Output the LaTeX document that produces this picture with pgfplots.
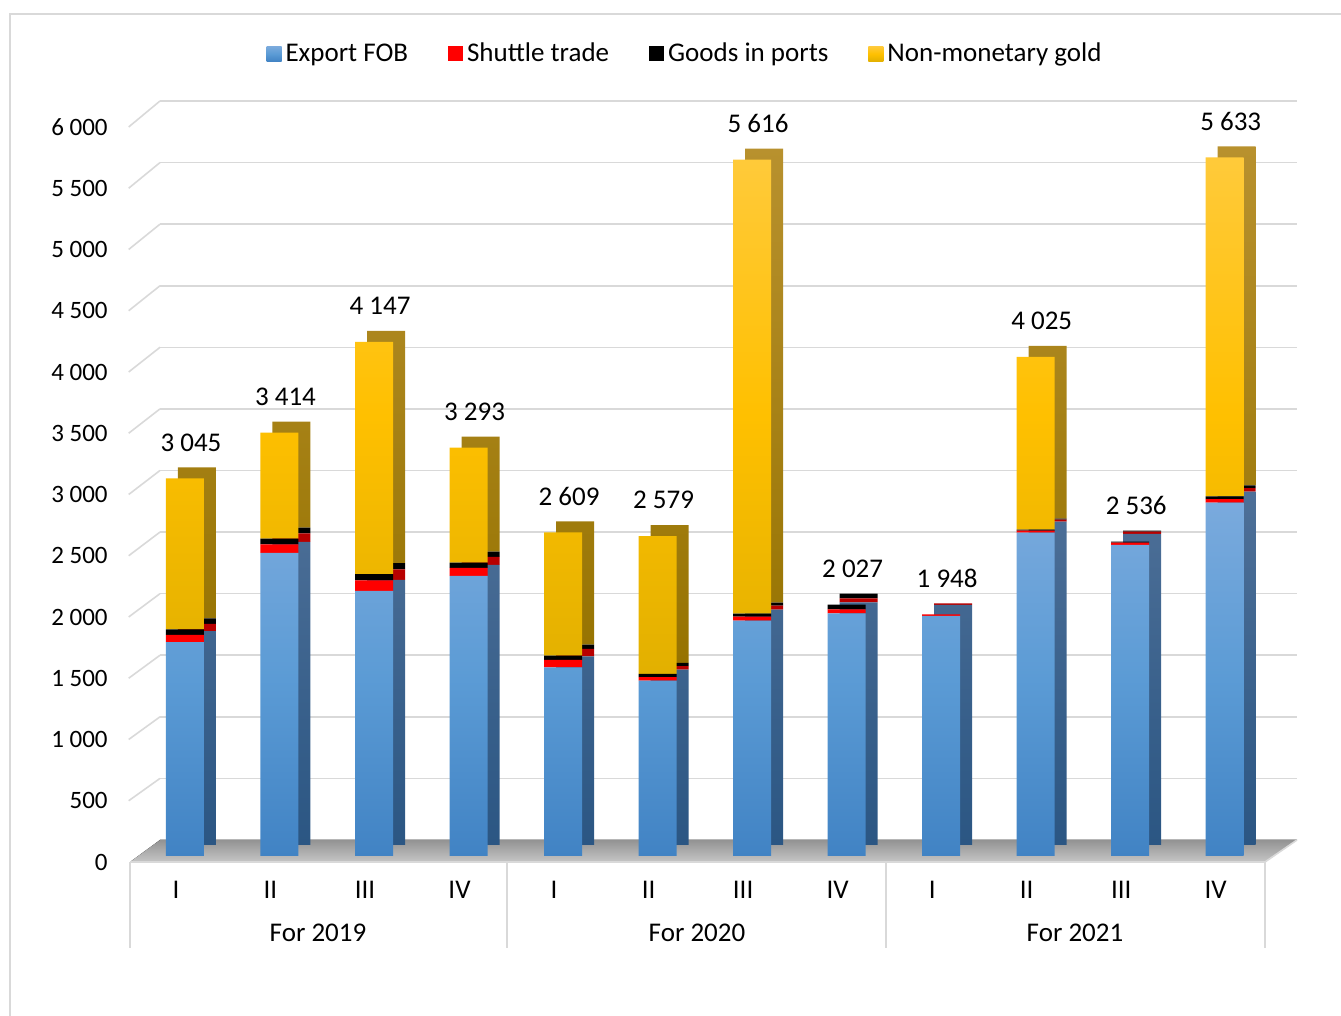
\documentclass[border=0pt]{standalone}
\usepackage{pgfplots}
\pgfplotsset{compat=1.18}
\usepackage{pgfplotstable}
\usepackage{fontspec}
\setmainfont{Carlito}
\definecolor{gridc}{HTML}{D9D9D9}
\definecolor{bluetop}{HTML}{7AAADD}
\definecolor{bluemid}{HTML}{5B9BD5}
\definecolor{bluebot}{HTML}{4183C4}
\definecolor{goldtop}{HTML}{FFCA3A}
\definecolor{goldmid}{HTML}{FFC000}
\definecolor{goldbot}{HTML}{E2B000}
\definecolor{bluesidetop}{HTML}{4E7098}
\definecolor{bluesidebot}{HTML}{2B5683}
\definecolor{goldside}{HTML}{B8912E}
\definecolor{goldsidebot}{HTML}{967300}
\definecolor{redside}{HTML}{B80000}

\pgfplotstableread{
x blue red black gold total
0 1725 59 43 1218 3045
1 2444 70 45 855 3414
2 2139 83 51 1874 4147
3 2259 64 43 927 3293
4 1522 59 35 993 2609
5 1415 27 27 1110 2579
6 1899 32 24 3661 5616
7 1957 31 39 0 2027
8 1936 12 0 0 1948
9 2607 16 8 1394 4025
10 2508 20 8 0 2536
11 2849 28 24 2732 5633
}\datatable

\newcommand{\lblfont}{\fontsize{12.5}{15}\selectfont}
\newcommand{\bigfont}{\fontsize{13.5}{16}\selectfont}

\begin{document}
\begin{tikzpicture}
\path[use as bounding box] (0pt,0pt) rectangle (670.5pt,508pt);
% outer frame
\draw[gridc, line width=0.8pt] (5pt,0pt) -- (5pt,501pt) -- (672pt,501pt);

% back wall grid
\begin{axis}[
  at={(80pt,88pt)}, anchor=south west,
  scale only axis, width=568.5pt, height=369.5pt,
  xmin=-0.5, xmax=11.5, ymin=0, ymax=6000,
  axis line style={draw=none}, tick style={draw=none},
  xtick=\empty, ytick={0,500,...,6000}, yticklabels={},
  ymajorgrids, grid style={gridc, line width=0.8pt},
]
\addplot[draw=none] coordinates {(0,0)};
\end{axis}

% left diagonals
\foreach \v in {1,2,...,12}{
  \draw[gridc, line width=0.8pt] (64.35pt,{(77+\v*30.625)*1pt}) -- (80pt,{(88+\v*30.7917)*1pt});
}
% floor
\fill[top color=gray!85, bottom color=gray!45] (65pt,77pt) -- (632.5pt,77pt) -- (648.5pt,88pt) -- (80pt,88pt) -- cycle;
\draw[gridc, line width=0.8pt] (65pt,77pt) -- (632.5pt,77pt) -- (648.5pt,88pt);
% category separators
\foreach \xx in {65,253.5,443,632.5}{
  \draw[gridc, line width=0.8pt] (\xx pt,77pt) -- (\xx pt,34pt);
}
\node[font=\bigfont] at (159pt,41.5pt) {For 2019};
\node[font=\bigfont] at (348.5pt,41.5pt) {For 2020};
\node[font=\bigfont] at (537.5pt,41.5pt) {For 2021};

% bar side/top faces (shifted copy)
\begin{axis}[
  at={(74.85pt,85.5pt)}, anchor=south west,
  scale only axis, width=567.15pt, height=372pt,
  xmin=-0.5, xmax=11.5, ymin=0, ymax=6000,
  hide axis, ybar stacked, bar width=19pt,
]
\addplot[draw=none, top color=bluesidetop, bottom color=bluesidebot] table[x=x,y=blue]{\datatable};
\addplot[draw=none, fill=redside] table[x=x,y=red]{\datatable};
\addplot[draw=none, fill=black] table[x=x,y=black]{\datatable};
\addplot[draw=none, top color=goldside, bottom color=goldsidebot] table[x=x,y=gold]{\datatable};
\end{axis}

% bar front faces
\begin{axis}[
  at={(68.85pt,80pt)}, anchor=south west,
  scale only axis, width=567.15pt, height=372pt,
  xmin=-0.5, xmax=11.5, ymin=0, ymax=6000,
  hide axis, ybar stacked, bar width=19pt,
  legend columns=4,
  legend style={draw=none, fill=none, at={(axis description cs:0.4834,1.078)}, anchor=center,
    font=\bigfont, /tikz/every even column/.append style={column sep=18pt}},
  legend image code/.code={\path[#1,draw=none] (0pt,-3.75pt) rectangle (7.5pt,3.75pt);},
]
\addplot[draw=none, top color=bluetop, bottom color=bluebot, middle color=bluemid] table[x=x,y=blue]{\datatable};
\addlegendentry{Export FOB}
\addplot[draw=none, fill=red] table[x=x,y=red]{\datatable};
\addlegendentry{Shuttle trade}
\addplot[draw=none, fill=black] table[x=x,y=black]{\datatable};
\addlegendentry{Goods in ports}
\addplot[draw=none, top color=goldtop, bottom color=goldbot, middle color=goldmid] table[x=x,y=gold]{\datatable};
\addlegendentry{Non-monetary gold}
\end{axis}

% total labels
\begin{axis}[
  at={(68.85pt,80pt)}, anchor=south west,
  scale only axis, width=567.15pt, height=372pt,
  xmin=-0.5, xmax=11.5, ymin=0, ymax=6000,
  hide axis,
  /pgf/number format/assume math mode=true,
]
\addplot[draw=none, mark=none, point meta=explicit,
  nodes near coords={\pgfmathprintnumber[fixed,precision=0,1000 sep={\ },assume math mode=true]{\pgfplotspointmeta}},
  nodes near coords style={font=\bigfont, text=black, anchor=center, yshift=18pt, xshift=3pt},
] table[x=x,y=total,meta=total]{\datatable};
\end{axis}

% front plane: tick labels
\begin{axis}[
  at={(64.35pt,77pt)}, anchor=south west,
  scale only axis, width=567.15pt, height=367.5pt,
  xmin=-0.5, xmax=11.5, ymin=0, ymax=6000,
  axis line style={draw=none}, tick style={draw=none}, major tick length=0pt,
  xtick={0,...,11},
  xticklabels={I,II,III,IV,I,II,III,IV,I,II,III,IV},
  ytick={0,500,...,6000},
  /pgf/number format/assume math mode=true,
  /pgf/number format/1000 sep={\ },
  xticklabel style={font=\bigfont, anchor=center, yshift=-14pt},
  yticklabel style={font=\lblfont, anchor=east, xshift=-7pt},
]
\addplot[draw=none] coordinates {(0,0)};
\end{axis}
\end{tikzpicture}
\end{document}
